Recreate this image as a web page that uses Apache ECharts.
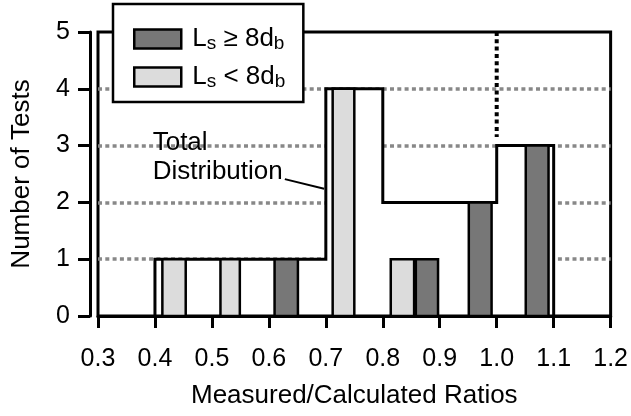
<!DOCTYPE html>
<html><head><meta charset="utf-8">
<script src="https://cdn.jsdelivr.net/npm/echarts@6/dist/echarts.min.js"></script>
<style>html,body{margin:0;padding:0;background:#fff}#c{width:631px;height:416px}</style>
</head><body><div id="c"></div>
<script>
// ---- data ----
const xTickValues = [0.3, 0.4, 0.5, 0.6, 0.7, 0.8, 0.9, 1.0, 1.1, 1.2];
const yTickValues = [0, 1, 2, 3, 4, 5];
const totalEdges = [0.4, 0.5, 0.6, 0.7, 0.8, 0.9, 1.0, 1.1];
const totalCounts = [1, 1, 1, 4, 2, 2, 3];
const longStart = [0.610, 0.858, 0.951, 1.051];
const longEnd   = [0.651, 0.897, 0.991, 1.091];
const longCount = [1, 1, 2, 3];
const shortStart = [0.413, 0.515, 0.712, 0.814];
const shortEnd   = [0.454, 0.549, 0.750, 0.855];
const shortCount = [1, 1, 4, 1];
const refLineX = [1.0, 1.0];
const refLineY = [5, 3.15];
const noteLines = ['Total', 'Distribution'];
const noteX = [0.396, 0.396];
const noteY = [3.05, 2.54];
const leaderX = [0.628, 0.697];
const leaderY = [2.41, 2.24];
const longName = 'Ls ≥ 8db';
const shortName = 'Ls < 8db';
const xTitle = 'Measured/Calculated Ratios';
const yTitle = 'Number of Tests';

const FONT = '"Liberation Sans", Arial, Helvetica, sans-serif';
const FS = 26;
const TICK_FS = 25;
const chart = echarts.init(document.getElementById('c'), null, {renderer: 'canvas'});

function barRender(fill) {
  return function (params, api) {
    const p0 = api.coord([api.value(0), api.value(2)]);
    const p1 = api.coord([api.value(1), 0]);
    return {
      type: 'rect',
      shape: {x: p0[0], y: p0[1], width: p1[0] - p0[0], height: p1[1] - p0[1]},
      style: {fill: fill, stroke: '#000', lineWidth: 2.5}
    };
  };
}

const totalData = totalCounts.map((c, i) => [totalEdges[i], totalEdges[i + 1], c]);

const option = {
  animation: false,
  textStyle: {fontFamily: FONT, color: '#000'},
  grid: {left: 98, right: 17, top: 32, bottom: 100, show: true, borderColor: '#000', borderWidth: 3, backgroundColor: 'transparent'},
  legend: {
    left: 113, top: 4, orient: 'vertical',
    backgroundColor: '#fff', borderColor: '#000', borderWidth: 2.5,
    padding: [22, 18, 11, 20], itemGap: 11, itemWidth: 47, itemHeight: 19,
    icon: 'rect',
    itemStyle: {borderColor: '#000', borderWidth: 2.5},
    data: [longName, shortName],
    formatter: function (name) {
      return name === longName ? '{a|L}{s|s}{m| ≥ 8d}{s|b}' : '{a|L}{s|s}{m| < 8d}{s|b}';
    },
    textStyle: {
      fontFamily: FONT, color: '#000',
      rich: {
        a: {fontSize: 26, lineHeight: 28, padding: [0, 0, 0, 6], fontFamily: FONT, color: '#000'},
        m: {fontSize: 26, lineHeight: 28, fontFamily: FONT, color: '#000'},
        s: {fontSize: 19, lineHeight: 18, verticalAlign: 'bottom', fontFamily: FONT, color: '#000'}
      }
    }
  },
  xAxis: {
    type: 'value', min: xTickValues[0], max: xTickValues[xTickValues.length - 1], interval: 0.1,
    offset: 11,
    axisLine: {show: true, lineStyle: {color: '#000', width: 3}},
    axisTick: {show: true, inside: false, length: 12, lineStyle: {color: '#000', width: 3}},
    axisLabel: {fontSize: TICK_FS, color: '#000', margin: 20, fontFamily: FONT, formatter: v => v.toFixed(1)},
    splitLine: {show: false},
    name: xTitle, nameLocation: 'middle', nameGap: 56,
    nameTextStyle: {fontSize: FS, color: '#000', fontFamily: FONT}
  },
  yAxis: {
    type: 'value', min: yTickValues[0], max: yTickValues[yTickValues.length - 1], interval: 1,
    offset: 8,
    axisLine: {show: true, lineStyle: {color: '#000', width: 3}},
    axisTick: {show: true, inside: false, length: 12, lineStyle: {color: '#000', width: 3}},
    axisLabel: {fontSize: TICK_FS, color: '#000', margin: 20, fontFamily: FONT},
    splitLine: {show: true, showMinLine: false, showMaxLine: false, lineStyle: {color: '#888', width: 3.5, type: [4, 3.3]}},
    name: yTitle, nameLocation: 'middle', nameGap: 55,
    nameTextStyle: {fontSize: FS, color: '#000', fontFamily: FONT}
  },
  series: [
    {
      name: 'Total Distribution', type: 'custom', z: 2, silent: true,
      data: totalData, encode: {x: [0, 1], y: 2},
      renderItem: function (params, api) {
        if (params.dataIndex !== 0) return null;
        const pts = [api.coord([totalEdges[0], 0])];
        for (let i = 0; i < totalCounts.length; i++) {
          pts.push(api.coord([totalEdges[i], totalCounts[i]]));
          pts.push(api.coord([totalEdges[i + 1], totalCounts[i]]));
        }
        pts.push(api.coord([totalEdges[totalEdges.length - 1], 0]));
        return {type: 'polygon', shape: {points: pts}, style: {fill: '#fff', stroke: '#000', lineWidth: 3, lineJoin: 'miter'}};
      }
    },
    {
      name: shortName, type: 'custom', z: 3,
      itemStyle: {color: '#dcdcdc', borderColor: '#000', borderWidth: 2.5},
      data: shortStart.map((s, i) => [s, shortEnd[i], shortCount[i]]),
      encode: {x: [0, 1], y: 2},
      renderItem: barRender('#dcdcdc')
    },
    {
      name: longName, type: 'custom', z: 3,
      itemStyle: {color: '#777777', borderColor: '#000', borderWidth: 2.5},
      data: longStart.map((s, i) => [s, longEnd[i], longCount[i]]),
      encode: {x: [0, 1], y: 2},
      renderItem: barRender('#777777')
    },
    {
      name: 'ref', type: 'line', z: 3, symbol: 'none', silent: true,
      data: refLineX.map((x, i) => [x, refLineY[i]]),
      lineStyle: {color: '#000', width: 4, type: [4, 3.3], cap: 'butt'}
    },
    {
      name: 'note', type: 'custom', z: 4, silent: true,
      data: [[noteX[0], noteY[0]]],
      renderItem: function (params, api) {
        const children = noteLines.map((t, i) => {
          const p = api.coord([noteX[i], noteY[i]]);
          return {type: 'text', x: p[0], y: p[1], style: {text: t, fill: '#000', font: FS + 'px ' + FONT, textAlign: 'left', textVerticalAlign: 'middle'}};
        });
        const a = api.coord([leaderX[0], leaderY[0]]);
        const b = api.coord([leaderX[1], leaderY[1]]);
        children.push({type: 'line', shape: {x1: a[0], y1: a[1], x2: b[0], y2: b[1]}, style: {stroke: '#000', lineWidth: 2}});
        return {type: 'group', children: children};
      }
    }
  ]
};
chart.setOption(option);
</script>
</body></html>
